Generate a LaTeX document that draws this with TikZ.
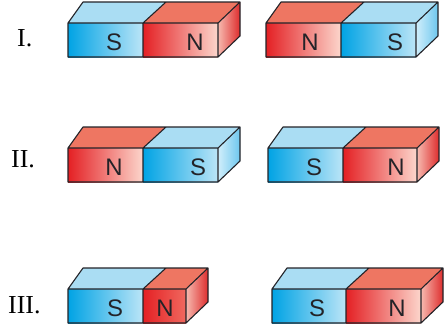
\documentclass[tikz,border=0pt]{standalone}
\usepackage{fontspec}
\setmainfont{Liberation Serif}
\newfontfamily\polefont{Liberation Sans}
\definecolor{nl}{RGB}{228,32,36}
\definecolor{nr}{RGB}{252,214,204}
\definecolor{nshort}{RGB}{240,105,95}
\definecolor{ntop}{RGB}{238,118,98}
\definecolor{nsl}{RGB}{246,185,175}
\definecolor{nsr}{RGB}{222,45,45}
\definecolor{sl}{RGB}{0,163,228}
\definecolor{sr}{RGB}{188,229,247}
\definecolor{stop}{RGB}{170,221,243}
\definecolor{ssl}{RGB}{208,238,251}
\definecolor{ssr}{RGB}{110,199,238}
\definecolor{edgec}{RGB}{35,35,40}
\tikzset{
  Nfront/.style={left color=nl,right color=nr},
  Sfront/.style={left color=sl,right color=sr},
  Ntop/.style={fill=ntop},
  Stop/.style={fill=stop},
  Nside/.style={left color=nsl,right color=nsr},
  Sside/.style={left color=ssl,right color=ssr},
  edge/.style={draw=edgec,line width=1.1bp,line join=round},
  pole/.style={font=\polefont\fontsize{24}{24}\selectfont,text=edgec,anchor=base,inner sep=0pt},
  lab/.style={font=\fontsize{26}{26}\selectfont,anchor=base west,inner sep=0pt}
}
\newcommand\magnetpair[8]{%
  \pgfmathsetmacro\xa{#1+15}\pgfmathsetmacro\xb{#2+23}\pgfmathsetmacro\xc{#3+22}%
  \pgfmathsetmacro\yu{#4-21}\pgfmathsetmacro\yd{#5-21}%
  \shade[#6front] (#1,#4) rectangle (#2,#5);
  \shade[#7front,#8] (#2,#4) rectangle (#3,#5);
  \fill[#6top] (#1,#4) -- (#2,#4) -- (\xb,\yu) -- (\xa,\yu) -- cycle;
  \fill[#7top] (#2,#4) -- (#3,#4) -- (\xc,\yu) -- (\xb,\yu) -- cycle;
  \shade[#7side] (#3,#4) -- (\xc,\yu) -- (\xc,\yd) -- (#3,#5) -- cycle;
  \draw[edge] (#1,#4) rectangle (#3,#5) (#2,#4) -- (#2,#5)
    (#1,#4) -- (\xa,\yu) -- (\xc,\yu) -- (\xc,\yd) -- (#3,#5)
    (#3,#4) -- (\xc,\yu) (#2,#4) -- (\xb,\yu);
}
\begin{document}
\begin{tikzpicture}[x=1bp,y=-1bp]
\useasboundingbox (0,0) rectangle (444,332);
% row I
\magnetpair{68}{143}{218}{23}{57}{S}{N}{}
\magnetpair{266}{341}{416}{23}{57}{N}{S}{}
% row II
\magnetpair{68}{143}{218}{148}{182}{N}{S}{}
\magnetpair{268}{343}{417}{148}{182}{S}{N}{}
% row III
\magnetpair{68}{143}{186}{289}{323}{S}{N}{right color=nshort}
\magnetpair{272}{346}{421}{289}{323}{S}{N}{}
% labels
\node[lab] (l1) at (17,46) {I.};
\node[lab] (l2) at (11,167) {II.};
\node[lab] (l3) at (8,313) {III.};
% poles
\node[pole] (a1) at (114,50) {S};
\node[pole] (a2) at (195,50) {N};
\node[pole] (a3) at (310,50) {N};
\node[pole] (a4) at (395,50) {S};
\node[pole] (b1) at (114,175) {N};
\node[pole] (b2) at (198,175) {S};
\node[pole] (b3) at (314,175) {S};
\node[pole] (b4) at (396,175) {N};
\node[pole] (c1) at (115,316) {S};
\node[pole] (c2) at (165,316) {N};
\node[pole] (c3) at (317,316) {S};
\node[pole] (c4) at (397,316) {N};
\end{tikzpicture}
\end{document}
